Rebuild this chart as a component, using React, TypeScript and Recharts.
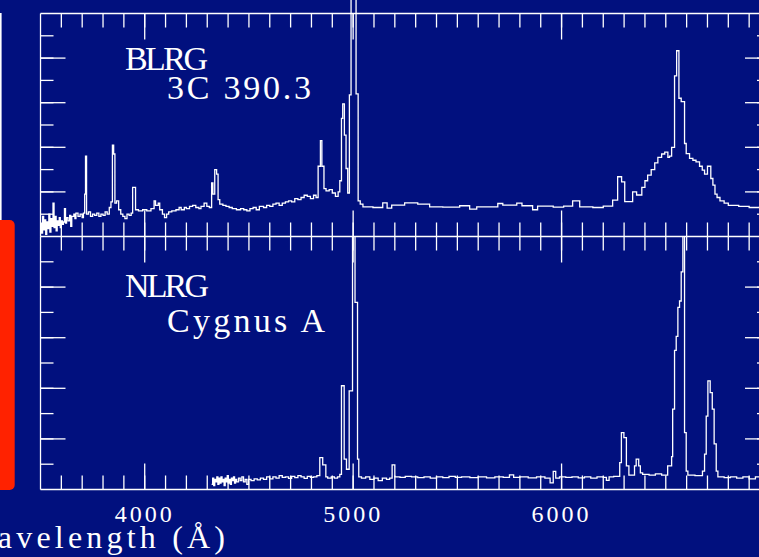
import React from 'react';
import { LineChart, Line, XAxis, YAxis } from 'recharts';

const BG = '#01107e';
const FG = '#ffffff';
const SERIF = "'Liberation Serif', 'DejaVu Serif', serif";

// 3C 390.3 (BLRG) - wavelength (A) and flux level for each step
const upperWave = [
  3500, 3505, 3510, 3515, 3520, 3525, 3530, 3535, 3540, 3545, 3550, 3555, 3560, 3565, 3570, 3575,
  3580, 3585, 3590, 3595, 3600, 3605, 3610, 3615, 3620, 3625, 3632, 3640, 3645, 3650, 3660, 3665,
  3670, 3680, 3690, 3700, 3706, 3712, 3716, 3721, 3730, 3740, 3750, 3760, 3770, 3780, 3790, 3800,
  3810, 3820, 3830, 3838, 3845, 3851, 3857, 3865, 3875, 3885, 3895, 3905, 3915, 3925, 3935, 3942,
  3956, 3970, 3990, 4010, 4030, 4045, 4052, 4065, 4072, 4085, 4095, 4105, 4115, 4130, 4150, 4165,
  4175, 4190, 4200, 4215, 4230, 4245, 4260, 4270, 4285, 4298, 4310, 4321, 4327, 4336, 4345, 4352,
  4360, 4375, 4390, 4405, 4420, 4440, 4460, 4475, 4490, 4505, 4520, 4535, 4550, 4570, 4585, 4600,
  4615, 4630, 4645, 4660, 4675, 4690, 4705, 4720, 4735, 4750, 4765, 4780, 4795, 4810, 4822, 4832,
  4843, 4850, 4860, 4870, 4885, 4900, 4915, 4928, 4936, 4944, 4950, 4958, 4966, 4974, 4982, 4990,
  5014, 5024, 5034, 5047, 5095, 5142, 5163, 5185, 5247, 5310, 5367, 5430, 5511, 5559, 5593, 5694,
  5718, 5785, 5810, 5861, 5885, 5960, 6010, 6053, 6087, 6150, 6200, 6245, 6269, 6288, 6303, 6341,
  6360, 6385, 6400, 6413, 6430, 6447, 6462, 6480, 6495, 6510, 6518, 6528, 6542, 6552, 6563, 6574,
  6590, 6598, 6614, 6630, 6645, 6662, 6675, 6686, 6700, 6716, 6726, 6736, 6746, 6760, 6780, 6800,
  6850, 6900, 6950, 7000,
];
const upperFlux = [
  0.6, 0.15, 0.9, 0.3, 0.75, 0.1, 0.65, 0.35, 1.0, 0.2, 0.8, 0.45, 1.5, 0.4, 0.9, 0.25,
  0.7, 0.5, 0.85, 0.4, 0.7, 0.55, 0.65, 1.25, 0.6, 0.85, 0.7, 0.95, 0.45, 0.9, 1.0, 0.8,
  1.05, 0.9, 1.0, 0.85, 1.05, 1.9, 3.6, 1.0, 1.1, 0.9, 1.0, 0.95, 1.05, 0.9, 1.0, 0.95,
  1.1, 1.0, 1.3, 1.55, 4.1, 3.7, 1.5, 1.6, 1.2, 1.0, 0.9, 0.8, 1.0, 0.95, 1.05, 2.2,
  1.2, 1.15, 1.2, 1.15, 1.25, 1.6, 1.4, 1.5, 1.2, 1.0, 0.85, 1.0, 1.1, 1.15, 1.2, 1.3,
  1.2, 1.3, 1.25, 1.35, 1.4, 1.3, 1.25, 1.35, 1.5, 1.35, 1.3, 2.4, 1.9, 3.0, 2.8, 1.65,
  1.45, 1.4, 1.35, 1.3, 1.25, 1.2, 1.25, 1.2, 1.15, 1.25, 1.3, 1.2, 1.35, 1.3, 1.4, 1.35,
  1.45, 1.5, 1.4, 1.5, 1.55, 1.6, 1.55, 1.7, 1.65, 1.75, 1.85, 1.8, 1.7, 1.85, 1.75, 3.15,
  4.3, 3.15, 2.15, 2.05, 2.1, 1.95, 1.8, 2.0, 2.5, 5.3, 5.95, 4.55, 3.05, 1.95, 6.35, 12,
  6.4, 1.6, 1.45, 1.33, 1.3, 1.51, 1.27, 1.41, 1.51, 1.45, 1.33, 1.32, 1.38, 1.23, 1.33, 1.48,
  1.41, 1.5, 1.38, 1.2, 1.36, 1.32, 1.36, 1.6, 1.33, 1.3, 1.36, 1.63, 2.68, 2.45, 1.56, 2.0,
  1.86, 2.2, 2.5, 2.75, 3.0, 3.3, 3.55, 3.7, 3.78, 3.55, 3.6, 4.0, 7.2, 8.33, 6.2, 6.05,
  4.17, 3.72, 3.5, 3.42, 3.35, 3.15, 2.98, 2.8, 3.15, 2.6, 2.3, 1.9, 1.75, 1.6, 1.5, 1.4,
  1.35, 1.3, 1.35, 1.33,
];

// Cygnus A (NLRG)
const lowerWave = [
  4321, 4326, 4331, 4336, 4341, 4346, 4351, 4356, 4361, 4366, 4371, 4376, 4381, 4386, 4391, 4396,
  4401, 4406, 4411, 4416, 4421, 4426, 4431, 4436, 4441, 4450, 4458, 4466, 4474, 4482, 4490, 4498,
  4510, 4525, 4540, 4555, 4570, 4585, 4600, 4615, 4630, 4645, 4660, 4675, 4690, 4705, 4720, 4735,
  4750, 4765, 4780, 4795, 4810, 4826, 4840, 4854, 4869, 4878, 4895, 4910, 4925, 4936, 4944, 4957,
  4968, 4981, 4997, 5009, 5021, 5027, 5040, 5060, 5080, 5100, 5120, 5140, 5160, 5175, 5187, 5200,
  5225, 5250, 5280, 5310, 5340, 5370, 5400, 5430, 5460, 5490, 5520, 5560, 5600, 5640, 5680, 5720,
  5750, 5770, 5800, 5840, 5880, 5920, 5945, 5960, 5972, 5990, 6020, 6050, 6080, 6110, 6140, 6170,
  6200, 6215, 6228, 6250, 6279, 6287, 6299, 6311, 6323, 6350, 6358, 6370, 6378, 6389, 6420, 6450,
  6480, 6509, 6528, 6533, 6542, 6550, 6558, 6566, 6574, 6582, 6590, 6598, 6606, 6640, 6676, 6686,
  6694, 6702, 6713, 6723, 6732, 6742, 6750, 6780, 6810, 6840, 6870, 6900, 6930, 6960, 7000,
];
const lowerFlux = [
  0.2, 0.45, 0.15, 0.4, 0.3, 0.5, 0.2, 0.45, 0.25, 0.5, 0.3, 0.4, 0.15, 0.45, 0.3, 0.55,
  0.25, 0.4, 0.2, 0.45, 0.35, 0.5, 0.25, 0.4, 0.3, 0.45, 0.35, 0.5, 0.3, 0.4, 0.2, 0.4,
  0.35, 0.42, 0.38, 0.45, 0.4, 0.5, 0.42, 0.5, 0.45, 0.55, 0.48, 0.5, 0.44, 0.52, 0.47, 0.55,
  0.5, 0.44, 0.52, 0.48, 0.5, 0.55, 1.26, 0.97, 0.5, 0.45, 0.5, 0.45, 0.5, 0.6, 4.1, 1.2,
  0.8, 3.9, 14, 7.4, 1.2, 0.5, 0.45, 0.5, 0.4, 0.45, 0.35, 0.45, 0.4, 0.45, 0.97, 0.5,
  0.48, 0.52, 0.5, 0.47, 0.5, 0.45, 0.5, 0.47, 0.52, 0.48, 0.5, 0.47, 0.5, 0.46, 0.5, 0.48,
  0.58, 0.48, 0.5, 0.46, 0.5, 0.45, 0.26, 0.72, 0.45, 0.5, 0.48, 0.5, 0.46, 0.5, 0.45, 0.5,
  0.48, 0.36, 0.5, 0.52, 1.06, 2.25, 2.05, 0.93, 0.57, 0.93, 1.2, 0.93, 0.66, 0.6, 0.57, 0.62,
  0.57, 0.93, 1.3, 3.18, 5.5, 6.05, 7.2, 7.45, 8.6, 14, 2.25, 0.73, 0.57, 0.55, 0.73, 1.4,
  2.9, 4.29, 3.83, 3.18, 1.8, 0.73, 0.5, 0.47, 0.5, 0.45, 0.5, 0.42, 0.5, 0.47, 0.5,
];

const xMinorTicks = [
  3600, 3700, 3800, 3900, 4000, 4100, 4200, 4300, 4400, 4500, 4600, 4700, 4800, 4900, 5000, 5100, 5200,
  5300, 5400, 5500, 5600, 5700, 5800, 5900, 6000, 6100, 6200, 6300, 6400, 6500, 6600, 6700, 6800, 6900,
];
const xMajorTicks = [4000, 5000, 6000];
const xLabels = [4000, 5000, 6000];
const yMinorTicks = [1, 2, 3, 4, 5, 6, 7, 8, 9];
const yMajorTicks = [2, 4, 6, 8];

const upperData = upperWave.map((w, i) => ({ w, f: upperFlux[i] }));
const lowerData = lowerWave.map((w, i) => ({ w, f: lowerFlux[i] }));

const axisStroke = { stroke: FG, strokeWidth: 1.3 };
const X_DOMAIN: [number, number] = [3500, 7000];
const Y_DOMAIN: [number, number] = [0, 10];

// tick lines only, no labels
const NoLabel = () => <g />;

// inward ticks on all four sides; mirrored axes with almost no size so they don't stack
function Frame() {
  const common = {
    type: 'number' as const, allowDataOverflow: true, mirror: true, interval: 0 as const,
    tick: NoLabel, tickMargin: 0, tickLine: axisStroke,
  };
  return [
    <XAxis key="bMin" xAxisId="bMin" dataKey="w" domain={X_DOMAIN} orientation="bottom" height={0.01}
      ticks={xMinorTicks} tickSize={14} axisLine={axisStroke} {...common} />,
    <XAxis key="bMaj" xAxisId="bMaj" dataKey="w" domain={X_DOMAIN} orientation="bottom" height={0.01}
      ticks={xMajorTicks} tickSize={26} axisLine={false} {...common} />,
    <XAxis key="tMin" xAxisId="tMin" dataKey="w" domain={X_DOMAIN} orientation="top" height={0.01}
      ticks={xMinorTicks} tickSize={14} axisLine={axisStroke} {...common} />,
    <XAxis key="tMaj" xAxisId="tMaj" dataKey="w" domain={X_DOMAIN} orientation="top" height={0.01}
      ticks={xMajorTicks} tickSize={26} axisLine={false} {...common} />,
    <YAxis key="lMin" yAxisId="lMin" domain={Y_DOMAIN} orientation="left" width={0.01}
      ticks={yMinorTicks} tickSize={13} axisLine={axisStroke} {...common} />,
    <YAxis key="lMaj" yAxisId="lMaj" domain={Y_DOMAIN} orientation="left" width={0.01}
      ticks={yMajorTicks} tickSize={25} axisLine={false} {...common} />,
    <YAxis key="rMin" yAxisId="rMin" domain={Y_DOMAIN} orientation="right" width={0.01}
      ticks={yMinorTicks} tickSize={13} axisLine={axisStroke} {...common} />,
    <YAxis key="rMaj" yAxisId="rMaj" domain={Y_DOMAIN} orientation="right" width={0.01}
      ticks={yMajorTicks} tickSize={25} axisLine={false} {...common} />,
  ];
}

export default function App() {
  const textProps = { fill: FG, fontFamily: SERIF, lengthAdjust: 'spacing' as const };
  return (
    <div style={{ position: 'absolute', left: 0, top: 0, width: 759, height: 557, overflow: 'hidden', background: BG }}>
      <style>{`.no-clip, .no-clip * { clip-path: none !important; }`}</style>

      {/* upper panel: BLRG */}
      <div style={{ position: 'absolute', left: 0, top: 0 }}>
        <LineChart width={800} height={237} data={upperData} margin={{ top: 13.5, right: 30, bottom: 0.5, left: 40.5 }}>
          {Frame()}
          <Line xAxisId="bMin" yAxisId="lMin" dataKey="f" type="stepAfter" stroke={FG} strokeWidth={1.3}
            dot={false} activeDot={false} isAnimationActive={false} className="no-clip" />
        </LineChart>
      </div>

      {/* lower panel: NLRG */}
      <div style={{ position: 'absolute', left: 0, top: 236 }}>
        <LineChart width={800} height={321} data={lowerData} margin={{ top: 0.5, right: 30, bottom: 0, left: 40.5 }}>
          {Frame()}
          <XAxis xAxisId="lab" dataKey="w" type="number" domain={X_DOMAIN} allowDataOverflow orientation="bottom"
            ticks={xLabels} interval={0} tickLine={false} axisLine={false} tickSize={0} tickMargin={15}
            height={67.5} tick={{ fill: FG, fontSize: 24, fontFamily: SERIF, letterSpacing: 3 }} />
          <Line xAxisId="bMin" yAxisId="lMin" dataKey="f" type="stepAfter" stroke={FG} strokeWidth={1.3}
            dot={false} activeDot={false} isAnimationActive={false} />
        </LineChart>
      </div>

      <svg width={759} height={557} style={{ position: 'absolute', left: 0, top: 0, pointerEvents: 'none' }}>
        <rect x={0} y={13} width={1.6} height={208} fill={FG} />
        <rect x={-10} y={220} width={24.7} height={270} rx={5} fill="#ff2200" />
        <text x={125} y={69.5} fontSize={34} textLength={83} {...textProps}>BLRG</text>
        <text x={167} y={99.3} fontSize={34} textLength={144} {...textProps}>3C 390.3</text>
        <text x={125} y={297.3} fontSize={34} textLength={84} {...textProps}>NLRG</text>
        <text x={167} y={331.7} fontSize={34} textLength={158} {...textProps}>Cygnus A</text>
        <text x={-34} y={548} fontSize={32} textLength={259} {...textProps}>Wavelength (Å)</text>
      </svg>
    </div>
  );
}
